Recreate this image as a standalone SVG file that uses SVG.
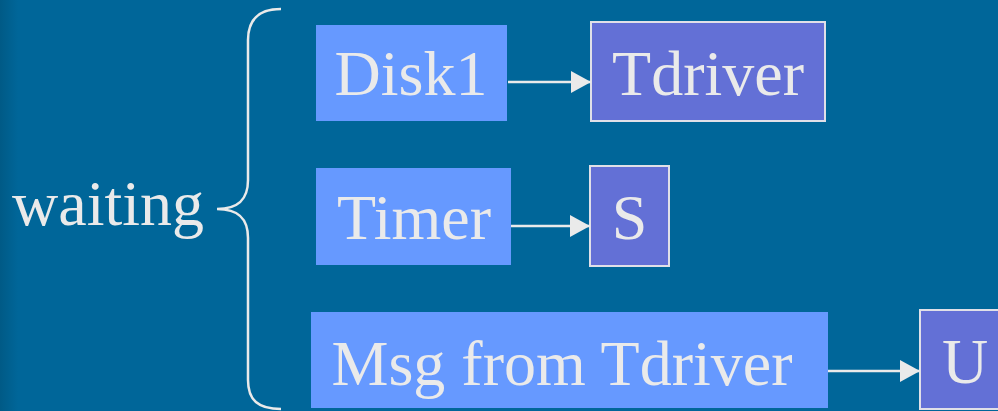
<svg xmlns="http://www.w3.org/2000/svg" width="998" height="411" viewBox="0 0 998 411">
<defs>
<linearGradient id="edge" x1="0" y1="0" x2="1" y2="0">
<stop offset="0" stop-color="#005a86"/>
<stop offset="1" stop-color="#006699"/>
</linearGradient>
<marker id="ah" markerWidth="20" markerHeight="22" refX="20" refY="11" orient="auto" markerUnits="userSpaceOnUse">
<path d="M0,0 L20,11 L0,22 Z" fill="#eaeaea"/>
</marker>
<style>
.src{fill:#6699ff}
.dst{fill:#6370d6;stroke:#e0e0e8;stroke-width:2}
text{font-family:"Liberation Serif","Times New Roman",serif;font-size:64px;fill:#eaeaea}
.c{text-anchor:middle}
.conn line{stroke:#eaeaea;stroke-width:2.5;marker-end:url(#ah)}
</style>
</defs>
<rect width="998" height="411" fill="#006699"/>
<rect width="18" height="411" fill="url(#edge)"/>
<g id="waiting">
<text x="12" y="225">waiting</text>
<path d="M281,9 C258,9 248,20 248,40 L248,180 C248,200 238,209 217,209 C238,209 248,218 248,238 L248,380 C248,400 258,409 281,409" fill="none" stroke="#eaeaea" stroke-width="2.5"/>
</g>
<g id="disk1"><rect class="src" x="316" y="25" width="191" height="96"/><text class="c" x="411" y="95">Disk1</text></g>
<g id="tdriver"><rect class="dst" x="591" y="22" width="234" height="99"/><text class="c" x="708" y="95">Tdriver</text></g>
<g id="timer"><rect class="src" x="316" y="168" width="195" height="97"/><text class="c" x="414" y="239">Timer</text></g>
<g id="s"><rect class="dst" x="590" y="166" width="79" height="100"/><text class="c" x="629.5" y="239">S</text></g>
<g id="msg"><rect class="src" x="311" y="312" width="517" height="96"/><text class="c" x="562" y="385">Msg from Tdriver</text></g>
<g id="u"><rect class="dst" x="920" y="310" width="80" height="99"/><text class="c" x="965" y="383">U</text></g>
<g class="conn">
<line x1="508" y1="82" x2="591" y2="82"/>
<line x1="511" y1="226" x2="590" y2="226"/>
<line x1="828" y1="371" x2="920" y2="371"/>
</g>
</svg>
